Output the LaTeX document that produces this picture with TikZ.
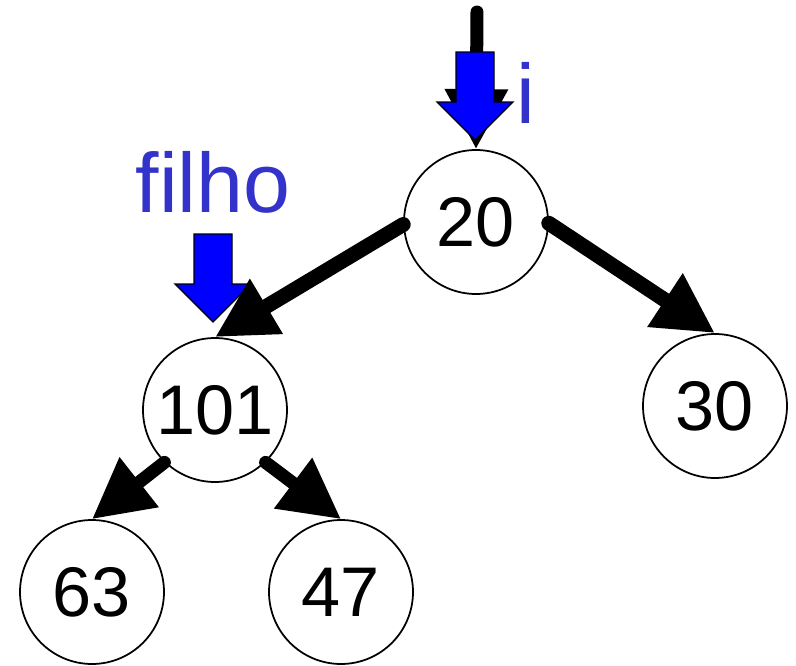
\documentclass[tikz,border=0pt]{standalone}
\usepackage{fontspec}
\setmainfont{Liberation Sans}
\usetikzlibrary{arrows.meta}
\definecolor{pointerblue}{RGB}{0, 0, 255}
\definecolor{labelblue}{RGB}{51, 51, 204}

\begin{document}
\begin{tikzpicture}[x=0.02cm, y=-0.02cm,
    heapnode/.style={draw, circle, line width=1pt, fill=white, minimum size=2.88cm,
        inner sep=0pt, font=\fontsize{40}{48}\selectfont},
    edge/.style={line width=0.26cm, line cap=round, -{Triangle[length=1.2cm, width=1.2cm]}},
    rootedge/.style={edge, line width=0.3cm},
    pointer/.style={draw=black, line width=0.8pt, fill=pointerblue, line join=miter},
    tag/.style={labelblue, anchor=base, font=\fontsize{48}{56}\selectfont}]
    \useasboundingbox (0, 0) rectangle (796, 666);

    % Heap nodes
    \node[heapnode] (n20) at (476, 222) {20};
    \node[heapnode] (n101) at (215, 410) {101};
    \node[heapnode] (n30) at (715, 406) {30};
    \node[heapnode] (n63) at (92, 592) {63};
    \node[heapnode] (n47) at (341, 592) {47};

    % Entry arrow into the root
    \coordinate (entry) at (477, 12);
    \draw[edge] (entry) -- (n20.north);

    % Pointers i and filho
    \coordinate (iTip) at (475, 140);
    \coordinate (filhoTip) at (213, 322);
    \foreach \tip in {iTip, filhoTip} {
        \draw[pointer] (\tip) -- ++(38, -38) -- ++(-19, 0) -- ++(0, -50) -- ++(-38, 0)
            -- ++(0, 50) -- ++(-19, 0) -- cycle;
    }
    \node[tag] (iLabel) at (526, 123) {i};
    \node[tag] (filhoLabel) at (213, 213) {filho};

    % Tree edges
    \draw[rootedge] (n20.182) -- (n101.north);
    \draw[rootedge] (n20.-1) -- (n30.north);
    \draw[edge] (n101.226) -- (n63.north);
    \draw[edge] (n101.-46) -- (n47.north);
\end{tikzpicture}
\end{document}
